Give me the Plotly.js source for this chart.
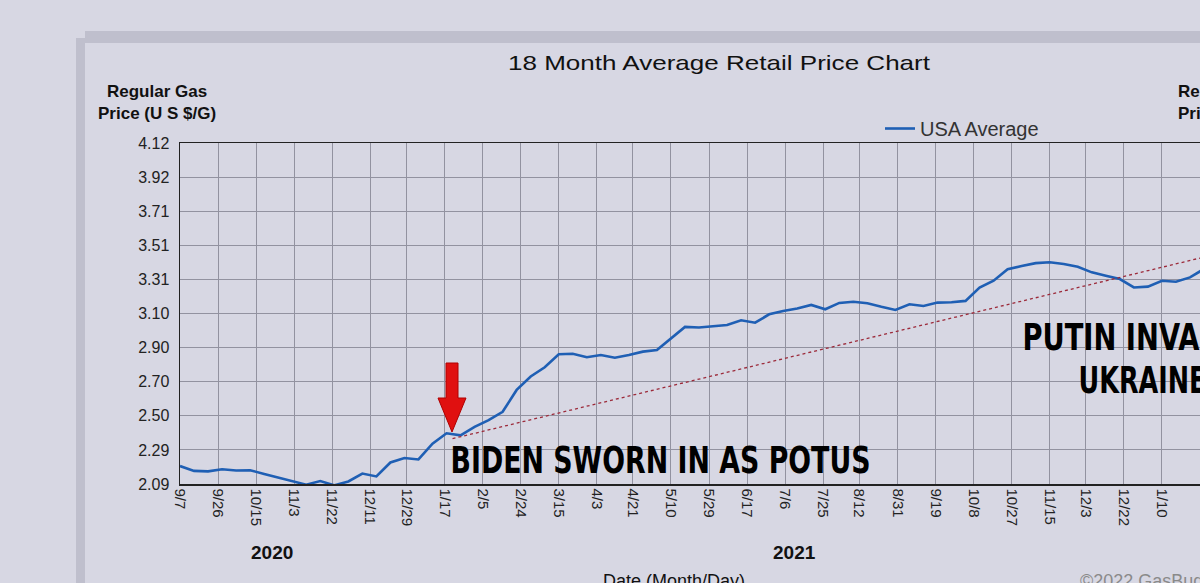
<!DOCTYPE html>
<html>
<head>
<meta charset="utf-8">
<script src="https://cdn.plot.ly/plotly-3.0.1.min.js"></script>
<style>
html,body{margin:0;padding:0;background:#d7d7e3;overflow:hidden;}
#chart{width:1200px;height:583px;}
</style>
</head>
<body>
<div id="chart"></div>
<script>
// ---- data ----
const dates = [
"2020-09-07","2020-09-14","2020-09-21","2020-09-28","2020-10-05","2020-10-12","2020-10-19","2020-10-26",
"2020-11-02","2020-11-09","2020-11-16","2020-11-23","2020-11-30","2020-12-07","2020-12-14","2020-12-21","2020-12-28",
"2021-01-04","2021-01-11","2021-01-18","2021-01-25","2021-02-01","2021-02-08","2021-02-15","2021-02-22",
"2021-03-01","2021-03-08","2021-03-15","2021-03-22","2021-03-29","2021-04-05","2021-04-12","2021-04-19","2021-04-26",
"2021-05-03","2021-05-10","2021-05-17","2021-05-24","2021-05-31","2021-06-07","2021-06-14","2021-06-21","2021-06-28",
"2021-07-05","2021-07-12","2021-07-19","2021-07-26","2021-08-02","2021-08-09","2021-08-16","2021-08-23","2021-08-30",
"2021-09-06","2021-09-13","2021-09-20","2021-09-27","2021-10-04","2021-10-11","2021-10-18","2021-10-25",
"2021-11-01","2021-11-08","2021-11-15","2021-11-22","2021-11-29","2021-12-06","2021-12-13","2021-12-20","2021-12-27",
"2022-01-03","2022-01-10","2022-01-17","2022-01-24","2022-01-31"
];
const usaAverage = [
2.197,2.168,2.165,2.178,2.170,2.172,2.150,2.128,
2.108,2.086,2.108,2.082,2.105,2.152,2.135,2.218,2.245,
2.236,2.330,2.392,2.380,2.430,2.470,2.520,2.650,
2.730,2.785,2.862,2.865,2.845,2.858,2.842,2.858,2.878,
2.888,2.955,3.025,3.022,3.030,3.036,3.065,3.050,3.100,
3.120,3.135,3.156,3.130,3.168,3.175,3.166,3.145,3.126,
3.160,3.150,3.170,3.172,3.180,3.260,3.300,3.368,
3.388,3.405,3.410,3.400,3.383,3.350,3.330,3.310,3.260,
3.265,3.300,3.294,3.320,3.370
];
const trendDates = ["2021-01-21","2022-01-29"];
const trendValues = [2.36, 3.435];

const xTickDates = ["2020-09-07","2020-09-26","2020-10-15","2020-11-03","2020-11-22","2020-12-11","2020-12-29",
"2021-01-17","2021-02-05","2021-02-24","2021-03-15","2021-04-03","2021-04-21","2021-05-10","2021-05-29",
"2021-06-17","2021-07-06","2021-07-25","2021-08-12","2021-08-31","2021-09-19","2021-10-08","2021-10-27",
"2021-11-15","2021-12-03","2021-12-22","2022-01-10","2022-01-29"];
const xTickLabels = ["9/7","9/26","10/15","11/3","11/22","12/11","12/29","1/17","2/5","2/24","3/15","4/3","4/21",
"5/10","5/29","6/17","7/6","7/25","8/12","8/31","9/19","10/8","10/27","11/15","12/3","12/22","1/10","1/29"];
const yTickVals = [2.09,2.293,2.496,2.699,2.902,3.105,3.308,3.511,3.714,3.917,4.12];
const yTickLabels = ["2.09","2.29","2.50","2.70","2.90","3.10","3.31","3.51","3.71","3.92","4.12"];

// ---- layout helpers (pixel -> paper) ----
const L=180, R=1200, T=143, B=484;
const px = x => (x-L)/(R-L);
const py = y => (B-y)/(B-T);
const FONT = "Liberation Sans, Arial, sans-serif";
const HEAVY = "DejaVu Sans, sans-serif";

const traces = [
 {x: dates, y: usaAverage, type:'scatter', mode:'lines', name:'USA Average',
  line:{color:'#1f5fb4', width:2.6}},
 {x: trendDates, y: trendValues, type:'scatter', mode:'lines', showlegend:false,
  line:{color:'#9c2a3a', width:1.3, dash:'dot'}, hoverinfo:'skip'}
];

const ann = (text,x,y,opts) => Object.assign({text, xref:'paper', yref:'paper', x:px(x), y:py(y),
  xanchor:'center', yanchor:'middle', showarrow:false, font:{family:FONT, size:15, color:'#111'}}, opts||{});

const layout = {
 width:1200, height:583,
 margin:{l:L, r:0, t:T, b:583-B, pad:0},
 paper_bgcolor:'#d7d7e3', plot_bgcolor:'#d7d7e3',
 font:{family:FONT, color:'#222'},
 title:{text:'18 Month Average Retail Price Chart', x:px(719), xref:'paper', xanchor:'center',
        y:1-63/583, yref:'container', yanchor:'middle', font:{family:FONT, size:21, color:'#111'}},
 showlegend:true,
 legend:{orientation:'h', x:px(880), y:py(109), xanchor:'left', yanchor:'top',
         bgcolor:'rgba(0,0,0,0)', font:{family:FONT, size:20, color:'#333'}},
 xaxis:{type:'date', range:['2020-09-07','2022-01-29'], tickmode:'array', tickvals:xTickDates, ticktext:xTickLabels,
        tickangle:90, tickfont:{family:FONT, size:15, color:'#222'}, ticks:'', ticklen:0,
        showgrid:true, gridcolor:'#9292a0', gridwidth:1, showline:true, linecolor:'#222', linewidth:1.5,
        mirror:true, zeroline:false, fixedrange:true},
 yaxis:{range:[2.09,4.12], tickmode:'array', tickvals:yTickVals, ticktext:yTickLabels,
        tickfont:{family:FONT, size:16, color:'#222'}, ticks:'', ticklabelstandoff:6,
        showgrid:true, gridcolor:'#9292a0', gridwidth:1, showline:true, linecolor:'#222', linewidth:1.5,
        mirror:true, zeroline:false, fixedrange:true},
 shapes:[
  {type:'rect', xref:'paper', yref:'paper', x0:px(76), x1:px(85), y0:py(600), y1:py(38),
   fillcolor:'rgba(120,120,140,0.25)', line:{width:0}, layer:'below'},
  {type:'rect', xref:'paper', yref:'paper', x0:px(85), x1:px(1210), y0:py(43), y1:py(31),
   fillcolor:'rgba(120,120,140,0.25)', line:{width:0}, layer:'below'},
  {type:'path', xref:'paper', yref:'paper', fillcolor:'#e01010', line:{color:'#b00000', width:1},
   path:`M ${px(446)} ${py(363)} L ${px(458)} ${py(363)} L ${px(458)} ${py(398)} L ${px(466)} ${py(398)} L ${px(452)} ${py(432)} L ${px(438)} ${py(398)} L ${px(446)} ${py(398)} Z`}
 ],
 annotations:[
  ann('<b>Regular Gas<br>Price (U S $/G)</b>',157,102,{font:{family:FONT,size:17,color:'#111'}}),
  ann('<b>Regular Gas<br>Price (U S $/G)</b>',1176,102,{xanchor:'left',align:'left',font:{family:FONT,size:17,color:'#111'}}),
  ann('<b>2020</b>',272,552,{font:{family:FONT,size:19,color:'#111'}}),
  ann('<b>2021</b>',794,552,{font:{family:FONT,size:19,color:'#111'}}),
  ann('Date (Month/Day)',601,569,{xanchor:'left',yanchor:'top',font:{family:FONT,size:18,color:'#111'}}),
  ann('©2022 GasBuddy',1078,569,{xanchor:'left',yanchor:'top',font:{family:FONT,size:18,color:'#8a8a8a'}}),
  ann('<b>BIDEN SWORN IN AS POTUS</b>',660,460,{font:{family:HEAVY,size:38,color:'#000'}}),
  ann('<b>PUTIN INVADES</b>',1141,337,{font:{family:HEAVY,size:38,color:'#000'}}),
  ann('<b>UKRAINE</b>',1142,380,{font:{family:HEAVY,size:38,color:'#000'}})
 ]
};

// target rendered widths (px) for a few texts whose typeface is narrower/wider than installed fonts
const fitWidths = {6:420, 7:238, 8:128};

Plotly.newPlot('chart', traces, layout, {displayModeBar:false, staticPlot:true}).then(gd => {
  const fit = (el,w) => { if(!el) return; el.setAttribute('textLength', w); el.setAttribute('lengthAdjust','spacingAndGlyphs'); };
  fit(gd.querySelector('.gtitle'), 422);
  const anns = gd.querySelectorAll('.annotation');
  Object.keys(fitWidths).forEach(i => { const a = anns[i]; if(a) fit(a.querySelector('text'), fitWidths[i]); });
});
</script>
</body>
</html>
